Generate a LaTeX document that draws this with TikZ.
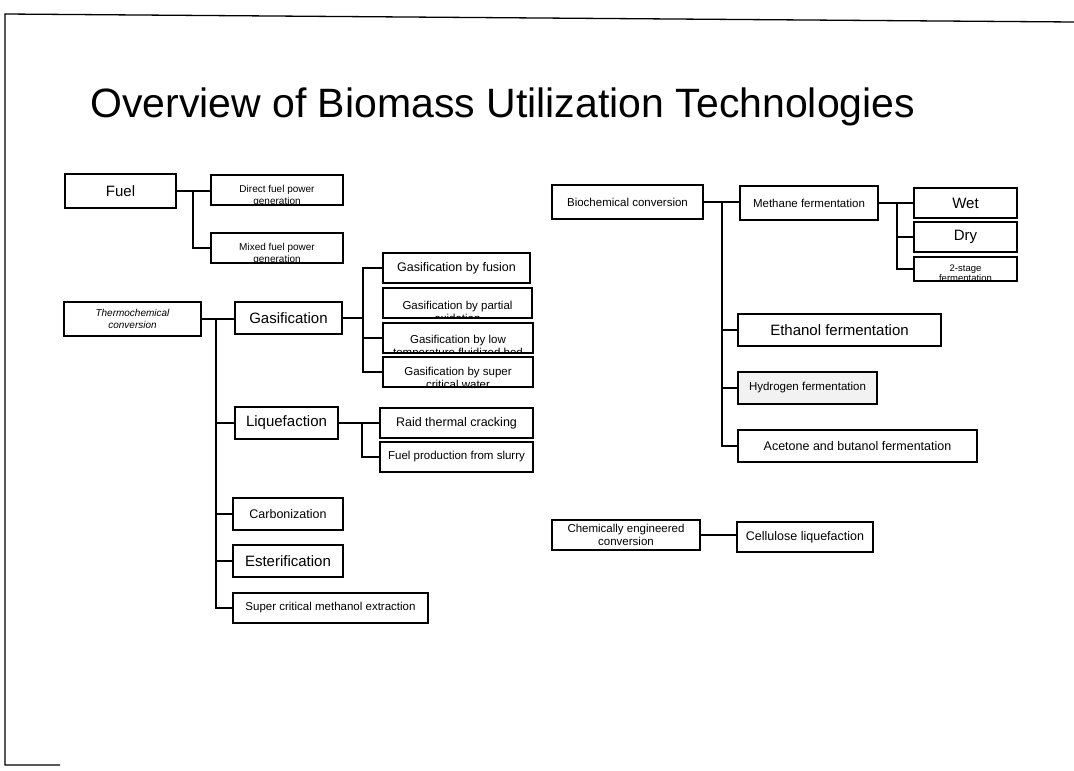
\documentclass[tikz,border=0pt]{standalone}
\usepackage{fontspec}
\setmainfont{Liberation Sans}
\usetikzlibrary{calc}
\newcommand\fsz[2]{\fontsize{#1}{#2}\selectfont}
\tikzset{
  box/.style={draw, line width=1.9pt, inner sep=0pt, outer sep=0pt, anchor=north west, align=center},
  conn/.style={line width=1.9pt},
  frameline/.style={line width=1.3pt},
  clipt/.style n args={3}{path picture={\node[anchor=north, align=center, inner sep=0pt, font=#2] at ([yshift=-#1]path picture bounding box.north) {#3};}},
  big/.style={font=\fsz{15}{17}},
  mid/.style={font=\fsz{12.5}{14}},
  small/.style={font=\fsz{11.5}{13}},
  tiny/.style={font=\fsz{10}{12}},
}
% box: [styles] {x1}{y1}{x2}{y2}{name}{text}
\newcommand\bx[7][]{\node[box,#1,minimum width={(#4-#2)*1pt},minimum height={(#5-#3)*1pt}] (#6) at (#2,#3) {#7};}
\begin{document}
\begin{tikzpicture}[x=1pt,y=-1pt]
\useasboundingbox (0,0) rectangle (1074,771);
% frame
\draw[frameline] (1074,22) -- (5,14) -- (5,765) -- (60,765);
% title
\node[font=\fsz{41}{44}, anchor=base west, inner sep=0pt] (title) at (90,117) {Overview of Biomass Utilization Technologies};

% ---- left: fuel
\bx[big]{65}{174}{176}{208}{fuel}{Fuel}
\bx[clipt={6pt}{\fsz{10}{12}}{Direct fuel power\\generation}]{211}{175}{343}{205}{direct}{}
\bx[clipt={6pt}{\fsz{10}{12}}{Mixed fuel power\\generation}]{211}{233}{343}{263}{mixed}{}
\coordinate (jfuel) at ($(fuel.east)+(17,0)$);
\draw[conn] (fuel.east) -- (fuel.east -| direct.west);
\draw[conn] (jfuel) |- (mixed.west);

% ---- thermochemical
\bx[tiny,font=\fsz{10}{12}\itshape]{64}{302}{201}{336}{thermo}{Thermochemical\\conversion}
\bx[big]{235}{302}{342}{334}{gas}{Gasification}
\bx[big]{235}{407}{338}{439}{liq}{Liquefaction}
\bx[mid]{233}{498}{343}{530}{carb}{Carbonization}
\bx[big]{233}{545}{343}{577}{ester}{Esterification}
\bx[small]{233}{593}{428}{623}{scme}{Super critical methanol extraction}
\coordinate (jthermo) at (216,0);
\draw[conn] (thermo.east) -- (thermo.east -| gas.west);
\draw[conn] (thermo.east -| jthermo) |- (scme.west);
\draw[conn] (liq.west -| jthermo) -- (liq.west);
\draw[conn] (carb.west -| jthermo) -- (carb.west);
\draw[conn] (ester.west -| jthermo) -- (ester.west);

% gasification children
\bx[mid]{383}{253}{530}{283}{fusion}{Gasification by fusion}
\bx[clipt={9pt}{\fsz{11.5}{13}}{Gasification by partial\\oxidation}]{383}{288}{532}{318}{partial}{}
\bx[clipt={9pt}{\fsz{11.5}{13}}{Gasification by low\\temperature fluidized bed}]{383}{323}{533}{353}{lowtemp}{}
\bx[clipt={6pt}{\fsz{11.5}{13}}{Gasification by super\\critical water}]{383}{357}{533}{387}{super}{}
\coordinate (jgas) at (363,0);
\draw[conn] (gas.east) -- (gas.east -| jgas);
\draw[conn] (fusion.west) -| (super.west -| jgas) -- (super.west);
\draw[conn] (lowtemp.west -| jgas) -- (lowtemp.west);

% liquefaction children
\bx[mid]{380}{408}{533}{438}{raid}{Raid thermal cracking}
\bx[small]{380}{442}{533}{472}{fuelprod}{Fuel production from slurry}
\coordinate (jliq) at (362,0);
\draw[conn] (liq.east) -- (liq.east -| raid.west);
\draw[conn] (liq.east -| jliq) |- (fuelprod.west);

% ---- biochemical
\bx[small]{552}{185}{703}{219}{bio}{Biochemical conversion}
\bx[small]{740}{186}{878}{220}{methane}{Methane fermentation}
\bx[big]{914}{188}{1017}{218}{wet}{Wet}
\bx[big]{914}{222}{1017}{252}{dry}{Dry}
\bx[clipt={4pt}{\fsz{9.5}{10.5}}{2-stage\\fermentation}]{914}{257}{1017}{281}{twostage}{}
\bx[big]{738}{314}{941}{346}{ethanol}{Ethanol fermentation}
\bx[small,fill=black!5]{738}{372}{877}{404}{hydrogen}{Hydrogen fermentation}
\bx[mid]{738}{430}{977}{462}{acetone}{Acetone and butanol fermentation}
\coordinate (jbio) at (722,0);
\draw[conn] (bio.east) -- (bio.east -| methane.west);
\draw[conn] (bio.east -| jbio) |- (acetone.west);
\draw[conn] (ethanol.west -| jbio) -- (ethanol.west);
\draw[conn] (hydrogen.west -| jbio) -- (hydrogen.west);
\coordinate (jmeth) at (897,0);
\draw[conn] (methane.east) -- (methane.east -| wet.west);
\draw[conn] (methane.east -| jmeth) |- (twostage.west);
\draw[conn] (dry.west -| jmeth) -- (dry.west);

% ---- chemically engineered
\bx[small]{552}{520}{700}{550}{chem}{Chemically engineered\\conversion}
\bx[mid]{737}{522}{873}{552}{cellulose}{Cellulose liquefaction}
\draw[conn] (chem.east) -- (chem.east -| cellulose.west);
\end{tikzpicture}
\end{document}
